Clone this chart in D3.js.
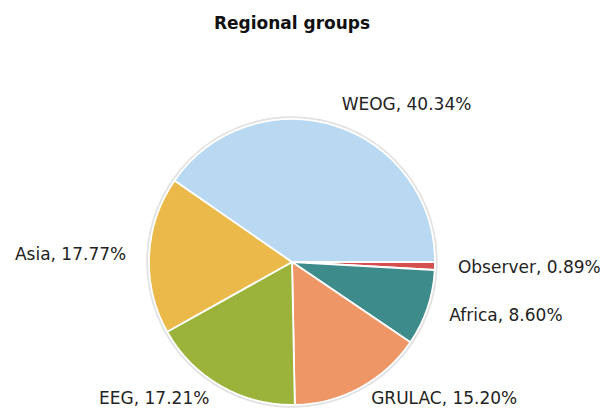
<html>
<meta charset="utf-8">
<head>
	<title>Regional groups</title>
	<script src="https://d3js.org/d3.v7.min.js"></script>
</head>
<body style="margin:0;background:#fff">
<svg id="chart" height="409" width="600"></svg>

<script>
	// data, clockwise from 3 o'clock
	var groups = ["Observer", "Africa", "GRULAC", "EEG", "Asia", "WEOG"];
	var shares = [0.89, 8.60, 15.20, 17.21, 17.77, 40.34];
	var colors = ["#d4504f", "#3d8b8a", "#ee9665", "#9bb33a", "#eab94a", "#b9d9f2"];

	var svg = d3.select("#chart");
	var cx = 292, cy = 262, radius = 143;

	svg.append("text")
		.attr("x", 292)
		.attr("y", 29)
		.attr("text-anchor", "middle")
		.attr("font-family", "DejaVu Sans, Verdana, sans-serif")
		.attr("font-weight", "bold")
		.attr("font-size", "17px")
		.attr("fill", "#111")
		.text("Regional groups");

	var pie = d3.pie()
		.sort(null)
		.value(function (d) { return d; })
		.startAngle(Math.PI / 2)
		.endAngle(Math.PI / 2 + 2 * Math.PI);

	var arc = d3.arc().innerRadius(0).outerRadius(radius);
	var arcs = pie(shares);

	var g = svg.append("g").attr("transform", "translate(" + cx + "," + cy + ")");

	// faint shadow ring
	g.append("circle")
		.attr("r", radius + 1.5)
		.attr("fill", "none")
		.attr("stroke", "#e2e2e2")
		.attr("stroke-width", 2.5);

	g.selectAll("path.slice").data(arcs)
		.enter()
		.append("path")
		.attr("class", "slice")
		.attr("d", arc)
		.attr("fill", function (d, i) { return colors[i]; })
		.attr("stroke", "#fff")
		.attr("stroke-width", 1.8)
		.attr("stroke-linejoin", "round");

	var labelR = 166;
	g.selectAll("text.label").data(arcs)
		.enter()
		.append("text")
		.attr("class", "label")
		.attr("x", function (d) {
			var a = (d.startAngle + d.endAngle) / 2;
			return Math.sin(a) * labelR;
		})
		.attr("y", function (d) {
			var a = (d.startAngle + d.endAngle) / 2;
			return Math.min(-Math.cos(a) * labelR, 136);
		})
		.attr("dy", "0.35em")
		.attr("text-anchor", function (d) {
			var a = (d.startAngle + d.endAngle) / 2;
			return Math.sin(a) >= 0 ? "start" : "end";
		})
		.attr("font-family", "DejaVu Sans, Verdana, sans-serif")
		.attr("font-size", "17px")
		.attr("fill", "#232323")
		.text(function (d, i) { return groups[i] + ", " + shares[i].toFixed(2) + "%"; });
</script>
</body>
</html>
